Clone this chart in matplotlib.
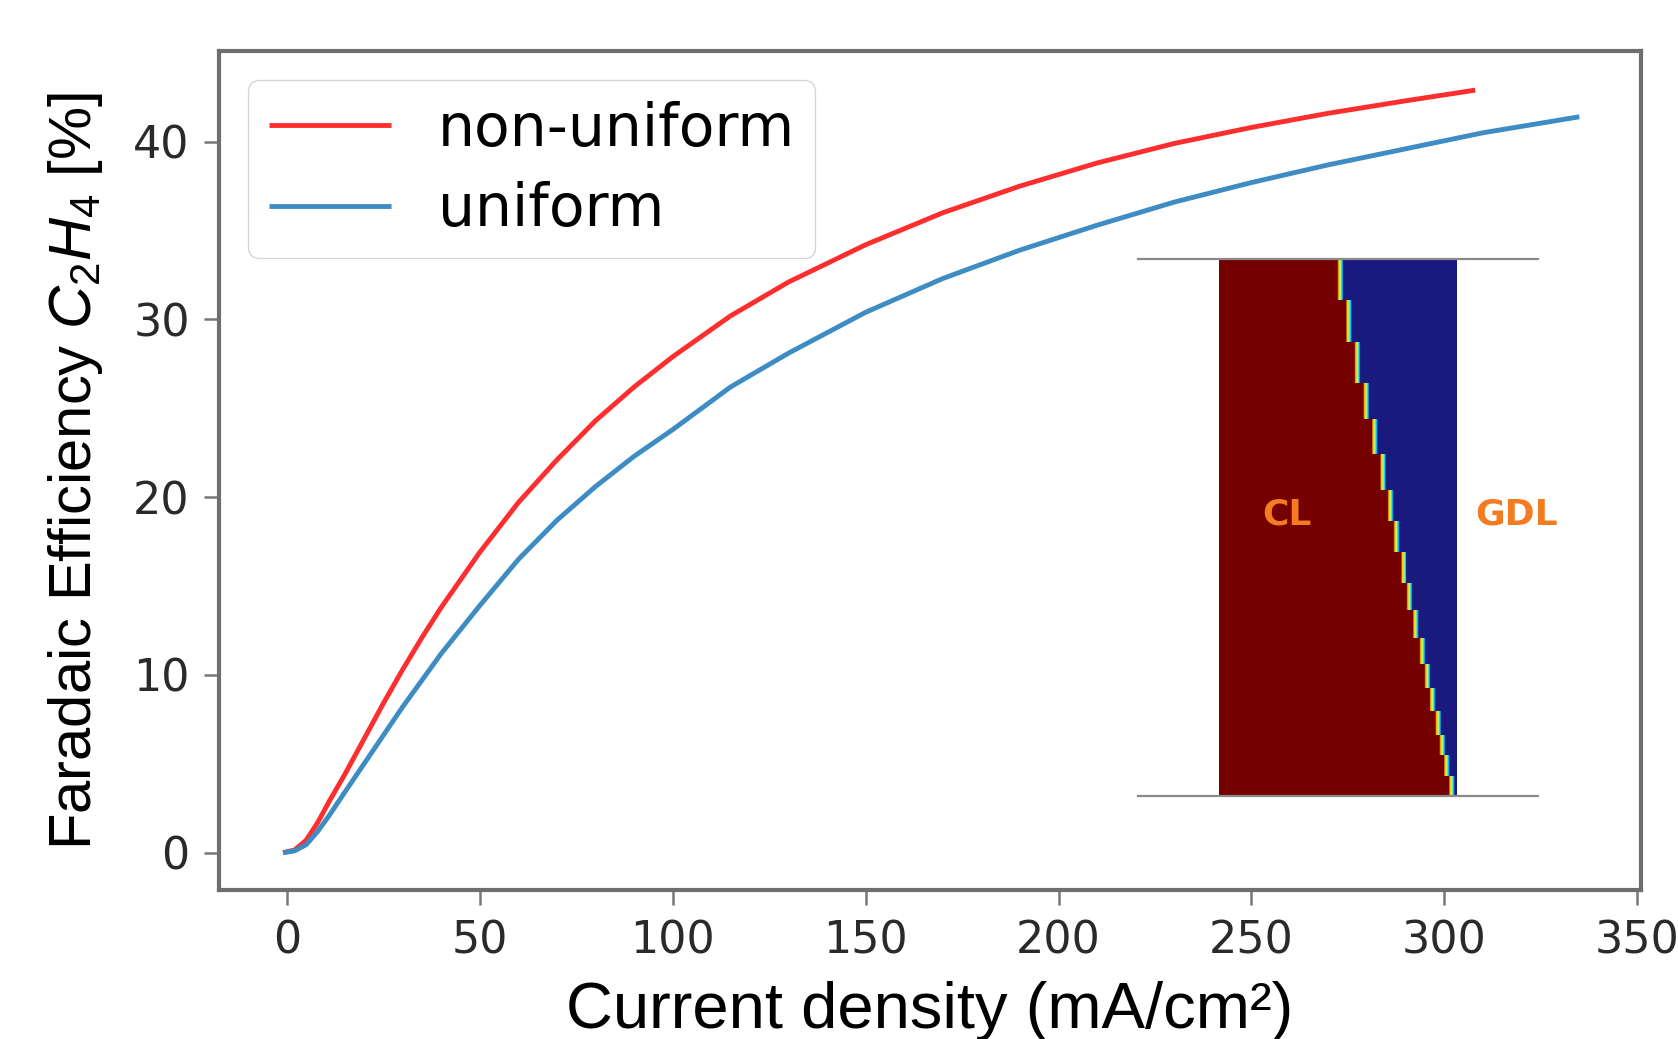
import numpy as np
import matplotlib
matplotlib.use("Agg")
import matplotlib.pyplot as plt
from matplotlib import font_manager
from matplotlib.colors import LinearSegmentedColormap

# ---- data ----
red_x = [-1, 2, 5, 8, 11, 15, 20, 25, 30, 35, 40, 50, 60, 70, 80, 90, 100, 115, 130, 150, 170, 190, 210, 230, 250, 270, 290, 308]
red_y = [0, 0.15, 0.7, 1.7, 2.9, 4.4, 6.4, 8.4, 10.3, 12.1, 13.8, 16.9, 19.7, 22.1, 24.3, 26.2, 27.9, 30.2, 32.1, 34.2, 36.0, 37.5, 38.8, 39.9, 40.8, 41.6, 42.3, 42.9]
blue_x = [-1, 2, 5, 8, 11, 15, 20, 25, 30, 40, 50, 60, 70, 80, 90, 100, 115, 130, 150, 170, 190, 210, 230, 250, 270, 290, 310, 335]
blue_y = [0, 0.1, 0.45, 1.2, 2.1, 3.4, 5.0, 6.6, 8.2, 11.2, 13.9, 16.5, 18.7, 20.6, 22.3, 23.8, 26.2, 28.1, 30.4, 32.3, 33.9, 35.3, 36.6, 37.7, 38.7, 39.6, 40.5, 41.4]
series_labels = ["non-uniform", "uniform"]
x_ticks = [0, 50, 100, 150, 200, 250, 300, 350]
y_ticks = [0, 10, 20, 30, 40]

# inset: CL/GDL interface (fraction of layer width) per mesh row, row heights (relative, top->bottom)
interface_pos = [0.525, 0.562, 0.598, 0.635, 0.670, 0.705, 0.736, 0.761, 0.792,
                 0.817, 0.843, 0.871, 0.892, 0.913, 0.937, 0.954, 0.972, 0.993]
row_heights = [110, 115, 110, 97, 96, 97, 85, 83, 84, 73, 75, 72, 63, 63, 64, 56, 55, 55]

available = {f.name for f in font_manager.fontManager.ttflist}
narrow = "Liberation Sans Narrow" if "Liberation Sans Narrow" in available else "Liberation Sans"
plt.rcParams["mathtext.fontset"] = "custom"
plt.rcParams["mathtext.rm"] = narrow
plt.rcParams["mathtext.it"] = narrow + ":italic"

# ---- figure ----
fig = plt.figure(figsize=(16.78, 10.39), dpi=100)
ax = fig.add_axes([0.1305, 0.1434, 0.8475, 0.8075])

ax.plot(red_x, red_y, color="#ff2e2e", lw=3.5, label=series_labels[0], solid_capstyle="butt")
ax.plot(blue_x, blue_y, color="#3d8cc4", lw=3.5, label=series_labels[1], solid_capstyle="butt")

ax.set_xlim(-17.6, 351)
ax.set_ylim(-2.1, 45.1)
ax.set_xticks(x_ticks)
ax.set_yticks(y_ticks)
for s in ax.spines.values():
    s.set_color("#6e6e6e")
    s.set_linewidth(3)
ax.tick_params(axis="both", labelsize=32, length=11, width=1.8, color="#777777",
               labelcolor="#2a2a2a", pad=10)
xl = ax.set_xlabel("Current density (mA/cm²)", fontsize=45, family="Liberation Sans")
yl = ax.set_ylabel("Faradaic Efficiency $C_2H_4$ [%]", fontsize=52, family=narrow)

leg = ax.legend(loc="upper left", fontsize=42, handlelength=2.1, handletextpad=0.8,
                labelspacing=0.4, borderpad=0.35, borderaxespad=0.5)
for h in leg.get_lines():
    h.set_linewidth(3.5)

# scale label font sizes to the reference extents (pixels)
fig.canvas.draw()
r = fig.canvas.get_renderer()
bx = xl.get_window_extent(r)
xl.set_fontsize(45 * 728.0 / bx.width)
by = yl.get_window_extent(r)
yl.set_fontsize(52 * 758.0 / by.height)
ax.xaxis.set_label_coords(0.5, -0.108)
ax.yaxis.set_label_coords(-0.080, 0.5)

# ---- inset ----
iax = fig.add_axes([0.6782, 0.2339, 0.2384, 0.5168])
hh = np.array(row_heights, dtype=float)
edges = np.concatenate([[0], np.cumsum(hh)]) / hh.sum()
yedges = 1 - edges  # top -> bottom
ncol = 480
xedges = np.linspace(0, 1, ncol + 1)
xc = 0.5 * (xedges[:-1] + xedges[1:])
w = 0.038
vals = np.array([np.clip((b - 0.016 - xc) / w + 0.5, 0, 1) for b in interface_pos])
cmap = LinearSegmentedColormap.from_list(
    "jetlike", [(0, "#1a1a7e"), (0.15, "#1a1a7e"), (0.32, "#10c8ff"), (0.5, "#b0ff70"),
                (0.68, "#ffc000"), (0.85, "#750000"), (1, "#750000")])
iax.pcolormesh(xedges, yedges, vals, cmap=cmap, vmin=0, vmax=1, shading="flat")
iax.set_xlim(-0.340, 1.340)
iax.set_ylim(0, 1)
iax.set_xticks([])
iax.set_yticks([])
iax.patch.set_alpha(0)
iax.spines["left"].set_visible(False)
iax.spines["right"].set_visible(False)
for k in ("top", "bottom"):
    iax.spines[k].set_color("#8a8a8a")
    iax.spines[k].set_linewidth(1.6)
iax.text(0.286, 0.525, "CL", color="#f47b20", fontsize=26, fontweight="bold",
         ha="center", va="center")
iax.text(1.248, 0.525, "GDL", color="#f47b20", fontsize=26, fontweight="bold",
         ha="center", va="center")

fig.savefig("out.png", dpi=100)
